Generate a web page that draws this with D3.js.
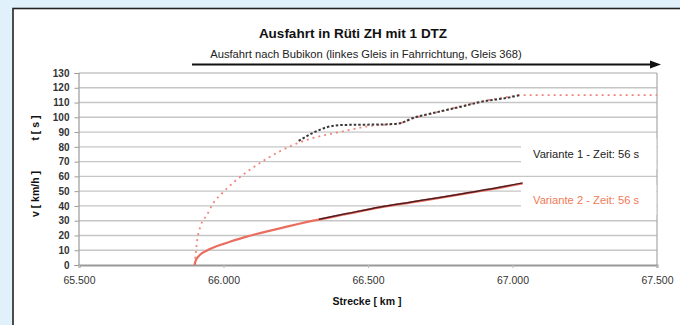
<!DOCTYPE html>
<html>
<head>
<meta charset="utf-8">
<script src="https://cdn.jsdelivr.net/npm/d3@7"></script>
<style>
  html, body { margin: 0; padding: 0; background: #e1f1fb; }
  svg { display: block; }
  text { font-family: "Liberation Sans", Arial, sans-serif; }
</style>
</head>
<body>
<svg id="chart" width="680" height="325"></svg>
<script>
// Streckenposition [m] und Fahrzeit t [s], Variante 2 (gepunktet, rot)
const tKmV2 = [65900, 65905, 65910, 65920, 65943, 65965, 66000, 66035, 66070, 66110, 66150, 66195, 66250, 66310, 66400, 66450, 66500, 66560, 66610, 66660, 66740, 66820, 66900, 66990, 67030, 67500];
const tValV2 = [0, 10, 18, 26, 34, 42, 49.5, 56, 61.5, 67, 72, 77, 82, 86, 90, 92, 94, 95, 96, 99.5, 103.5, 107.5, 111, 114, 115, 115];

// Fahrzeit t [s], Variante 1 (gepunktet, schwarz)
const tKmV1 = [66260, 66310, 66358, 66413, 66480, 66560, 66610, 66656, 66740, 66818, 66900, 66990, 67025];
const tValV1 = [84, 89.5, 93.3, 94.8, 95, 95.2, 96, 99.5, 103.5, 107, 110.8, 113.5, 115];

// Geschwindigkeit v [km/h], Variante 2 (rot)
const vKmV2 = [65900, 65903, 65910, 65919, 65940, 65965, 66000, 66022, 66080, 66195, 66311, 66426, 66542, 66650, 66737, 66850, 66950, 67035];
const vValV2 = [0, 2.5, 5, 7, 9.5, 11.8, 14.3, 15.7, 19.2, 24.8, 30, 34.5, 39, 42.4, 45.1, 48.8, 52.1, 55.2];

// Geschwindigkeit v [km/h], Variante 1 (schwarz)
const vKmV1 = [66330, 66426, 66542, 66650, 66737, 66850, 66950, 67035];
const vValV1 = [31, 34.8, 39.3, 42.7, 45.4, 49.1, 52.4, 55.6];

const xTicks = [65500, 66000, 66500, 67000, 67500];
const yTicks = [0, 10, 20, 30, 40, 50, 60, 70, 80, 90, 100, 110, 120, 130];

const titleText = "Ausfahrt in Rüti ZH mit 1 DTZ";
const subtitleText = "Ausfahrt nach Bubikon (linkes Gleis in Fahrrichtung, Gleis 368)";
const legendLabels = ["Variante 1 - Zeit: 56 s", "Variante 2 - Zeit: 56 s"];
const xTitle = "Strecke [ km ]";
const yTitleT = "t [ s ]";
const yTitleV = "v [ km/h ]";

const svg = d3.select("#chart");
const locale = d3.formatLocale({ decimal: ",", thousands: ".", grouping: [3], currency: ["", ""] });
const fmtKm = locale.format(",d");

const x = d3.scaleLinear().domain([65500, 67500]).range([79, 657]);
const y = d3.scaleLinear().domain([0, 130]).range([265, 73]);

// Blatt
svg.append("rect").attr("x", 13).attr("y", 8.5).attr("width", 700).attr("height", 400)
  .attr("fill", "#ffffff").attr("stroke", "#222").attr("stroke-width", 1.6);

// Titel
svg.append("text").attr("x", 353).attr("y", 38).attr("text-anchor", "middle")
  .attr("font-size", 13.5).attr("font-weight", "bold").attr("fill", "#111").text(titleText);
svg.append("text").attr("x", 366).attr("y", 58).attr("text-anchor", "middle")
  .attr("font-size", 11.2).attr("fill", "#222").text(subtitleText);

// Fahrtrichtungspfeil
svg.append("line").attr("x1", 192).attr("x2", 652).attr("y1", 64.5).attr("y2", 64.5)
  .attr("stroke", "#111").attr("stroke-width", 1.8);
svg.append("path").attr("d", "M650,60.5 L661,64.5 L650,68.5 Z").attr("fill", "#111");

// Gitternetz
svg.append("g").selectAll("line").data(yTicks.slice(1)).join("line")
  .attr("x1", x(65500)).attr("x2", x(67500))
  .attr("y1", d => y(d)).attr("y2", d => y(d))
  .attr("stroke", "#c6c6c6").attr("stroke-width", 1.4);

// Rahmen rechts
svg.append("line").attr("x1", x(67500)).attr("x2", x(67500)).attr("y1", y(130)).attr("y2", y(0))
  .attr("stroke", "#a8a8a8").attr("stroke-width", 1.2);

// Achsen
const yAxis = d3.axisLeft(y).tickValues(yTicks).tickSize(4).tickPadding(5).tickFormat(d3.format("d"));
const gy = svg.append("g").attr("transform", `translate(${x(65500) - 0.5},0)`).call(yAxis);
gy.select(".domain").attr("stroke", "#999").attr("stroke-width", 1.2);
gy.selectAll(".tick line").attr("stroke", "#999");
gy.selectAll(".tick text").attr("font-size", 10).attr("font-weight", "bold").attr("fill", "#333")
  .attr("font-family", "'Liberation Sans', Arial, sans-serif");

const xAxis = d3.axisBottom(x).tickValues(xTicks).tickSize(3).tickPadding(9).tickFormat(fmtKm);
const gx = svg.append("g").attr("transform", `translate(0,${y(0)})`).call(xAxis);
gx.select(".domain").attr("stroke", "#999").attr("stroke-width", 2);
gx.selectAll(".tick line").attr("stroke", "#bbb");
gx.selectAll(".tick text").attr("font-size", 10.5).attr("fill", "#333")
  .attr("font-family", "'Liberation Sans', Arial, sans-serif");

// Achsentitel
svg.append("text").attr("x", 367).attr("y", 305).attr("text-anchor", "middle")
  .attr("font-size", 10.5).attr("font-weight", "bold").attr("fill", "#111").text(xTitle);
svg.append("text").attr("transform", "translate(39,128) rotate(-90)").attr("text-anchor", "middle")
  .attr("font-size", 10.5).attr("font-weight", "bold").attr("fill", "#111").text(yTitleT);
svg.append("text").attr("transform", "translate(39,194) rotate(-90)").attr("text-anchor", "middle")
  .attr("font-size", 10.5).attr("font-weight", "bold").attr("fill", "#111").text(yTitleV);

// Legendenfelder
const legendY = [154, 200];
const legendColors = ["#222", "#ef7a56"];
svg.append("g").selectAll("rect").data(legendY).join("rect")
  .attr("x", 521).attr("y", d => d - 15).attr("width", x(67500) - 521 - 0.6).attr("height", 30)
  .attr("fill", "#ffffff");
svg.append("g").selectAll("text").data(legendLabels).join("text")
  .attr("x", 533).attr("y", (d, i) => legendY[i] + 4)
  .attr("font-size", 11.2).attr("fill", (d, i) => legendColors[i]).text(d => d);

const line = d3.line().x(d => x(d[0])).y(d => y(d[1])).curve(d3.curveMonotoneX);
const zip = (a, b) => a.map((v, i) => [v, b[i]]);

// Zeitkurven
svg.append("path").datum(zip(tKmV2, tValV2)).attr("d", line)
  .attr("fill", "none").attr("stroke", "#f0857b").attr("stroke-width", 1.8)
  .attr("stroke-dasharray", "2 4");
svg.append("path").datum(zip(tKmV1, tValV1)).attr("d", line)
  .attr("fill", "none").attr("stroke", "#3a3a3a").attr("stroke-width", 2)
  .attr("stroke-dasharray", "2.5 2");

// Geschwindigkeitskurven
svg.append("path").datum(zip(vKmV2, vValV2)).attr("d", line)
  .attr("fill", "none").attr("stroke", "#ea6e60").attr("stroke-width", 2.2);
svg.append("path").datum(zip(vKmV1, vValV1)).attr("d", line)
  .attr("fill", "none").attr("stroke", "#3e1418").attr("stroke-width", 1.5).attr("stroke-opacity", 0.9);
</script>
</body>
</html>
